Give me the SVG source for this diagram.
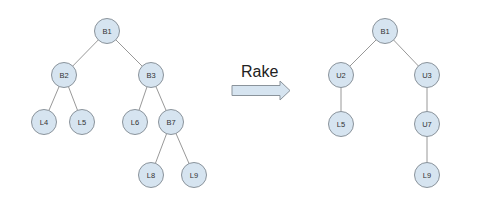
<svg xmlns="http://www.w3.org/2000/svg" width="479" height="213" viewBox="0 0 479 213">
<style>
.n circle{fill:#d6e4f0;stroke:#8a939b;stroke-width:1}
.n text{font-family:"Liberation Sans",Arial,sans-serif;font-size:7.5px;fill:#333;text-anchor:middle;dominant-baseline:central}
.e line{stroke:#8c8c8c;stroke-width:0.9}
</style>
<rect width="479" height="213" fill="#fff"/>
<g id="connectors" class="e">
<line x1="107" y1="31" x2="64" y2="75"/>
<line x1="107" y1="31" x2="151" y2="75"/>
<line x1="64" y1="75" x2="44" y2="122"/>
<line x1="64" y1="75" x2="82" y2="122"/>
<line x1="151" y1="75" x2="135" y2="122"/>
<line x1="151" y1="75" x2="171" y2="122"/>
<line x1="171" y1="122" x2="151" y2="175"/>
<line x1="171" y1="122" x2="194" y2="175"/>
<line x1="385" y1="31" x2="341" y2="75"/>
<line x1="385" y1="31" x2="427" y2="75"/>
<line x1="341" y1="75" x2="341" y2="124"/>
<line x1="427" y1="75" x2="427" y2="124"/>
<line x1="427" y1="124" x2="427" y2="175"/>
</g>
<g id="B1" class="n"><circle cx="107" cy="31" r="12.5"/><text x="107" y="31">B1</text></g>
<g id="B2" class="n"><circle cx="64" cy="75" r="12.5"/><text x="64" y="75">B2</text></g>
<g id="B3" class="n"><circle cx="151" cy="75" r="12.5"/><text x="151" y="75">B3</text></g>
<g id="L4" class="n"><circle cx="44" cy="122" r="12.5"/><text x="44" y="122">L4</text></g>
<g id="L5" class="n"><circle cx="82" cy="122" r="12.5"/><text x="82" y="122">L5</text></g>
<g id="L6" class="n"><circle cx="135" cy="122" r="12.5"/><text x="135" y="122">L6</text></g>
<g id="B7" class="n"><circle cx="171" cy="122" r="12.5"/><text x="171" y="122">B7</text></g>
<g id="L8" class="n"><circle cx="151" cy="175" r="12.5"/><text x="151" y="175">L8</text></g>
<g id="L9" class="n"><circle cx="194" cy="175" r="12.5"/><text x="194" y="175">L9</text></g>
<g id="rake">
<text x="241" y="77" font-family="'Liberation Sans',Arial,sans-serif" font-size="16" fill="#222">Rake</text>
<polygon points="232,85.5 280,85.5 280,81 290,90.5 280,100 280,95.5 232,95.5" fill="#d6e4f0" stroke="#8a939b" stroke-width="1"/>
</g>
<g id="R_B1" class="n"><circle cx="385" cy="31" r="12.5"/><text x="385" y="31">B1</text></g>
<g id="U2" class="n"><circle cx="341" cy="75" r="12.5"/><text x="341" y="75">U2</text></g>
<g id="U3" class="n"><circle cx="427" cy="75" r="12.5"/><text x="427" y="75">U3</text></g>
<g id="R_L5" class="n"><circle cx="341" cy="124" r="12.5"/><text x="341" y="124">L5</text></g>
<g id="U7" class="n"><circle cx="427" cy="124" r="12.5"/><text x="427" y="124">U7</text></g>
<g id="R_L9" class="n"><circle cx="427" cy="175" r="12.5"/><text x="427" y="175">L9</text></g>
</svg>
